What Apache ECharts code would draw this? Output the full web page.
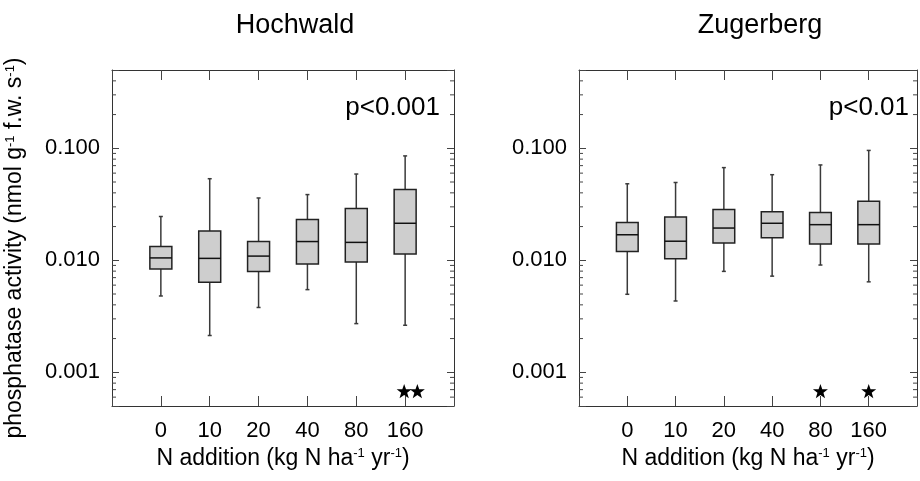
<!DOCTYPE html>
<html>
<head>
<meta charset="utf-8">
<script src="https://cdn.jsdelivr.net/npm/echarts@6/dist/echarts.min.js"></script>
<style>
  html, body { margin: 0; padding: 0; background: #fff; }
  #chart { width: 920px; height: 481px; }
</style>
</head>
<body>
<div id="chart"></div>
<script>
// N addition levels (kg N ha-1 yr-1)
const categories = ['0', '10', '20', '40', '80', '160'];

// Hochwald: whisker low, Q1, median, Q3, whisker high
const hochLow = [0.0048, 0.00213, 0.00379, 0.00547, 0.00272, 0.00263];
const hochQ1 = [0.00835, 0.00637, 0.00796, 0.00926, 0.00966, 0.0114];
const hochMed = [0.0105, 0.0104, 0.0109, 0.0147, 0.01445, 0.0214];
const hochQ3 = [0.0133, 0.0183, 0.01475, 0.0231, 0.029, 0.0428];
const hochHigh = [0.0246, 0.0535, 0.036, 0.0386, 0.0589, 0.0855];

// Zugerberg
const zugLow = [0.00497, 0.00433, 0.00796, 0.00722, 0.00907, 0.00642];
const zugQ1 = [0.01197, 0.0103, 0.0143, 0.0159, 0.014, 0.014];
const zugMed = [0.0169, 0.0148, 0.0194, 0.0214, 0.0208, 0.0208];
const zugQ3 = [0.0217, 0.0244, 0.0284, 0.0271, 0.0267, 0.0336];
const zugHigh = [0.0482, 0.0495, 0.0672, 0.0581, 0.071, 0.0957];

// significance stars [category position, y]
const hochStars = [[4.98, 0.00068], [5.25, 0.00068]];
const zugStars = [[4, 0.00068], [5, 0.00068]];

const pValues = ['p<0.001', 'p<0.01'];
const sites = ['Hochwald', 'Zugerberg'];

const X_MIN = -1, X_MAX = 6;
const Y_MIN = 0.0005, Y_MAX = 0.5;
const BOX_W = 0.45;
const FONT = '"Liberation Sans", Arial, Helvetica, sans-serif';
const FRAME = '#333';

// minor log ticks (2..9 x each decade) inside the axis range
const minorTicks = [];
for (let d = -4; d <= 0; d++) {
  for (let m = 2; m <= 9; m++) {
    const v = m * Math.pow(10, d);
    if (v > Y_MIN * 1.001 && v < Y_MAX * 0.999) minorTicks.push([X_MIN, v]);
  }
}

const toRows = (lo, q1, med, q3, hi) =>
  categories.map((c, i) => [i, lo[i], q1[i], med[i], q3[i], hi[i]]);

function renderBox(params, api) {
  const x = api.value(0);
  const lo = api.coord([x, api.value(1)]);
  const q1 = api.coord([x, api.value(2)]);
  const med = api.coord([x, api.value(3)]);
  const q3 = api.coord([x, api.value(4)]);
  const hi = api.coord([x, api.value(5)]);
  const half = api.coord([x + BOX_W / 2, api.value(3)])[0] - med[0];
  const cap = 2;
  const wStyle = { stroke: '#3a3a3a', lineWidth: 1.5 };
  return {
    type: 'group',
    children: [
      { type: 'line', shape: { x1: hi[0], y1: hi[1], x2: lo[0], y2: lo[1] }, style: wStyle },
      { type: 'line', shape: { x1: hi[0] - cap, y1: hi[1], x2: hi[0] + cap, y2: hi[1] }, style: wStyle },
      { type: 'line', shape: { x1: lo[0] - cap, y1: lo[1], x2: lo[0] + cap, y2: lo[1] }, style: wStyle },
      {
        type: 'rect',
        shape: { x: med[0] - half, y: q3[1], width: half * 2, height: q1[1] - q3[1] },
        style: { fill: '#cecece', stroke: '#222', lineWidth: 1.5 }
      },
      { type: 'line', shape: { x1: med[0] - half, y1: med[1], x2: med[0] + half, y2: med[1] }, style: { stroke: '#111', lineWidth: 1.5 } }
    ]
  };
}

function renderMinor(params, api) {
  const l = api.coord([X_MIN, api.value(1)]);
  const r = api.coord([X_MAX, api.value(1)]);
  const st = { stroke: '#444', lineWidth: 1 };
  return {
    type: 'group',
    children: [
      { type: 'line', shape: { x1: l[0], y1: l[1], x2: l[0] + 4, y2: l[1] }, style: st },
      { type: 'line', shape: { x1: r[0] - 4, y1: r[1], x2: r[0], y2: r[1] }, style: st }
    ]
  };
}

const grids = [
  { left: 112, top: 70, width: 342, height: 336 },
  { left: 579, top: 70, width: 342, height: 336 }
];

const xAxes = [];
const yAxes = [];
grids.forEach((g, gi) => {
  const base = {
    gridIndex: gi, type: 'value', min: X_MIN, max: X_MAX, interval: 1,
    splitLine: { show: false },
    axisLine: { show: true, onZero: false, lineStyle: { color: FRAME, width: 1 } },
    axisTick: { inside: true, length: 10, lineStyle: { color: '#444', width: 1 } }
  };
  xAxes.push(Object.assign({}, base, {
    position: 'bottom',
    axisLabel: {
      formatter: v => categories[v] || '',
      fontSize: 22, fontFamily: FONT, color: '#000', margin: 14
    },
    name: 'N addition (kg N ha{s|-1} yr{s|-1})',
    nameLocation: 'middle', nameGap: 41,
    nameTextStyle: {
      fontSize: 23, fontFamily: FONT, color: '#000',
      rich: { s: { fontSize: 13, fontFamily: FONT, color: '#000', verticalAlign: 'top' } }
    }
  }));
  xAxes.push(Object.assign({}, base, { position: 'top', axisLabel: { show: false } }));

  const ybase = {
    gridIndex: gi, type: 'log', logBase: 10, min: Y_MIN, max: Y_MAX,
    splitLine: { show: false },
    axisLine: { show: true, onZero: false, lineStyle: { color: FRAME, width: 1 } },
    axisTick: { show: true, inside: true, length: 7, lineStyle: { color: '#444', width: 1 } }
  };
  yAxes.push(Object.assign({}, ybase, {
    position: 'left',
    axisLabel: {
      formatter: v => {
        const e = Math.log10(v);
        return Math.abs(e - Math.round(e)) < 1e-6 ? v.toFixed(3) : '';
      },
      fontSize: 22, fontFamily: FONT, color: '#000', margin: 12
    }
  }));
  yAxes.push(Object.assign({}, ybase, { position: 'right', axisLabel: { show: false } }));
});

const starPath = 'path://M0,-10L2.35,-3.24L9.51,-3.09L3.8,1.24L5.88,8.09L0,4L-5.88,8.09L-3.8,1.24L-9.51,-3.09L-2.35,-3.24Z';

const boxData = [
  toRows(hochLow, hochQ1, hochMed, hochQ3, hochHigh),
  toRows(zugLow, zugQ1, zugMed, zugQ3, zugHigh)
];
const starData = [hochStars, zugStars];

const series = [];
grids.forEach((g, gi) => {
  series.push({
    name: sites[gi] + ' minor', type: 'custom', xAxisIndex: gi * 2, yAxisIndex: gi * 2,
    renderItem: renderMinor, data: minorTicks, silent: true, clip: false
  });
  series.push({
    name: sites[gi], type: 'custom', xAxisIndex: gi * 2, yAxisIndex: gi * 2,
    renderItem: renderBox, data: boxData[gi],
    encode: { x: 0, y: [1, 2, 3, 4, 5] }
  });
  series.push({
    name: sites[gi] + ' stars', type: 'scatter', xAxisIndex: gi * 2, yAxisIndex: gi * 2,
    symbol: starPath, symbolKeepAspect: true, symbolSize: 15,
    itemStyle: { color: '#000', opacity: 1 }, data: starData[gi], silent: true
  });
});

const chart = echarts.init(document.getElementById('chart'));
chart.setOption({
  backgroundColor: '#fff',
  animation: false,
  title: [
    { text: sites[0], left: 290, top: 7, textAlign: 'center', textStyle: { fontSize: 27, fontWeight: 'normal', fontFamily: FONT, color: '#000' } },
    { text: sites[1], left: 755, top: 7, textAlign: 'center', textStyle: { fontSize: 27, fontWeight: 'normal', fontFamily: FONT, color: '#000' } }
  ],
  grid: grids,
  xAxis: xAxes,
  yAxis: yAxes,
  graphic: [
    {
      type: 'text', x: 15, y: 248, rotation: Math.PI / 2,
      style: {
        text: 'phosphatase activity (nmol g{s|-1} f.w. s{s|-1})',
        fontSize: 23, fontFamily: FONT, fill: '#000', align: 'center', verticalAlign: 'middle',
        rich: { s: { fontSize: 13, fontFamily: FONT, fill: '#000', verticalAlign: 'top' } }
      }
    },
    {
      type: 'text', x: 440, y: 108,
      style: { text: pValues[0], fontSize: 26, fontFamily: FONT, fill: '#000', align: 'right', verticalAlign: 'middle' }
    },
    {
      type: 'text', x: 909, y: 108,
      style: { text: pValues[1], fontSize: 26, fontFamily: FONT, fill: '#000', align: 'right', verticalAlign: 'middle' }
    }
  ],
  series: series
});
</script>
</body>
</html>
